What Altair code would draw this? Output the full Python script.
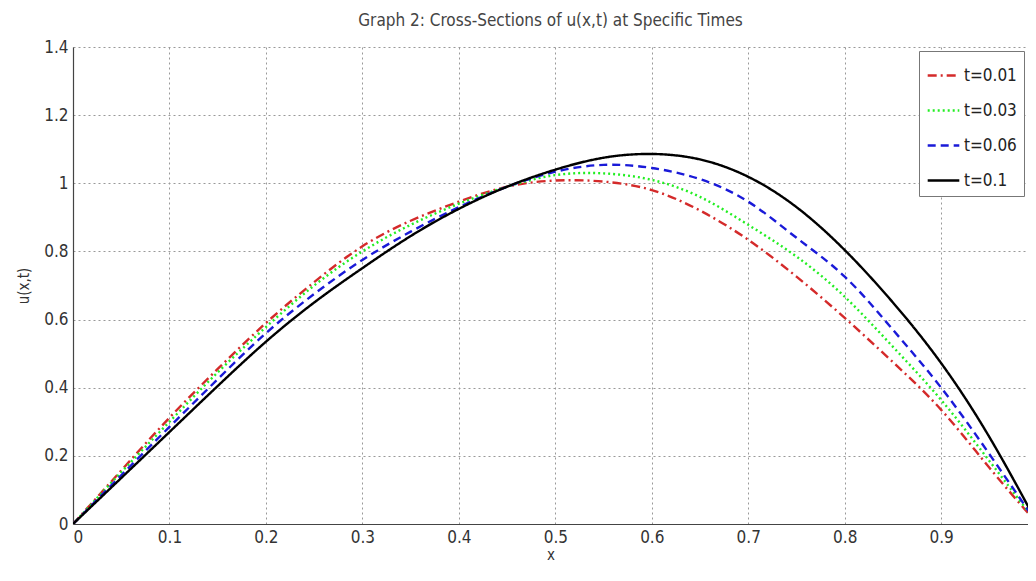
import altair as alt
import pandas as pd

xs = [0.0, 0.05, 0.1, 0.15, 0.2, 0.25, 0.3, 0.35, 0.4, 0.45, 0.5,
      0.55, 0.6, 0.65, 0.7, 0.75, 0.8, 0.85, 0.9, 0.95, 1.0]
u_001 = [0, 0.157, 0.312, 0.455, 0.59, 0.71, 0.815, 0.89, 0.946, 0.99, 1.008,
         1.005, 0.98, 0.92, 0.834, 0.726, 0.605, 0.475, 0.335, 0.165, 0]
u_003 = [0, 0.152, 0.30, 0.445, 0.578, 0.70, 0.80, 0.878, 0.94, 0.99, 1.024,
         1.029, 1.01, 0.96, 0.878, 0.785, 0.667, 0.52, 0.364, 0.185, 0]
u_006 = [0, 0.143, 0.285, 0.425, 0.56, 0.675, 0.775, 0.858, 0.93, 0.99, 1.034,
         1.054, 1.045, 1.012, 0.946, 0.84, 0.726, 0.57, 0.40, 0.205, 0]
u_01 = [0, 0.135, 0.27, 0.405, 0.535, 0.65, 0.751, 0.845, 0.925, 0.99, 1.04,
        1.075, 1.086, 1.07, 1.019, 0.93, 0.804, 0.65, 0.472, 0.255, 0]

series_names = ["t=0.01", "t=0.03", "t=0.06", "t=0.1"]
series_vals = [u_001, u_003, u_006, u_01]
colors = ["#d42a2a", "#22ee22", "#1a1ad8", "#000000"]
dashes = [[9, 4, 2, 4], [2, 3], [8, 5], [1, 0]]

x_ticks = [0, 0.1, 0.2, 0.3, 0.4, 0.5, 0.6, 0.7, 0.8, 0.9, 1.0]
y_ticks = [0, 0.2, 0.4, 0.6, 0.8, 1.0, 1.2, 1.4]

rows = []
for name, vals in zip(series_names, series_vals):
    for i, (x, v) in enumerate(zip(xs, vals)):
        rows.append({"x": x, "u": v, "series": name, "order": i})
df = pd.DataFrame(rows)

FONT = "DejaVu Sans Condensed, Liberation Sans Narrow, Roboto Condensed, sans-serif"

chart = alt.Chart(df).mark_line(strokeWidth=2.4, interpolate="natural", clip=True).encode(
    x=alt.X("x:Q", title="x",
            scale=alt.Scale(domain=[0, 0.99], nice=False, zero=False),
            axis=alt.Axis(values=x_ticks, format="~g", ticks=False, labelPadding=5,
                          titlePadding=2, domainColor="#444", domainWidth=1.2,
                          gridDash=[2, 3], gridColor="#999", gridWidth=1)),
    y=alt.Y("u:Q", title="u(x,t)",
            scale=alt.Scale(domain=[0, 1.4], nice=False),
            axis=alt.Axis(values=y_ticks, format="~g", ticks=False, labelPadding=5,
                          titlePadding=12, domainColor="#444", domainWidth=1.2,
                          gridDash=[2, 3], gridColor="#999", gridWidth=1)),
    color=alt.Color("series:N", scale=alt.Scale(domain=series_names, range=colors),
                    legend=alt.Legend(title=None, orient="top-right", offset=4,
                                      symbolType="stroke", symbolSize=1000,
                                      symbolStrokeWidth=2.4, labelFontSize=17,
                                      labelFont=FONT, labelColor="#222",
                                      rowPadding=9, padding=7, labelOffset=3,
                                      fillColor="white", strokeColor="#777")),
    strokeDash=alt.StrokeDash("series:N", scale=alt.Scale(domain=series_names, range=dashes)),
    order="order:Q",
).properties(
    width=955, height=477,
    autosize=alt.AutoSizeParams(type="none"),
    padding={"left": 65, "top": 39, "right": 0, "bottom": 50},
    title=alt.Title("Graph 2: Cross-Sections of u(x,t) at Specific Times",
                    font=FONT, fontSize=17, fontWeight="normal", color="#444", offset=8),
).configure_axis(
    labelFont=FONT, labelFontSize=17, labelColor="#333",
    titleFont=FONT, titleFontSize=15, titleFontWeight="normal", titleColor="#333",
).configure_view(stroke=None)

chart.save("out.html", embed_options={"renderer": "svg", "actions": False})
